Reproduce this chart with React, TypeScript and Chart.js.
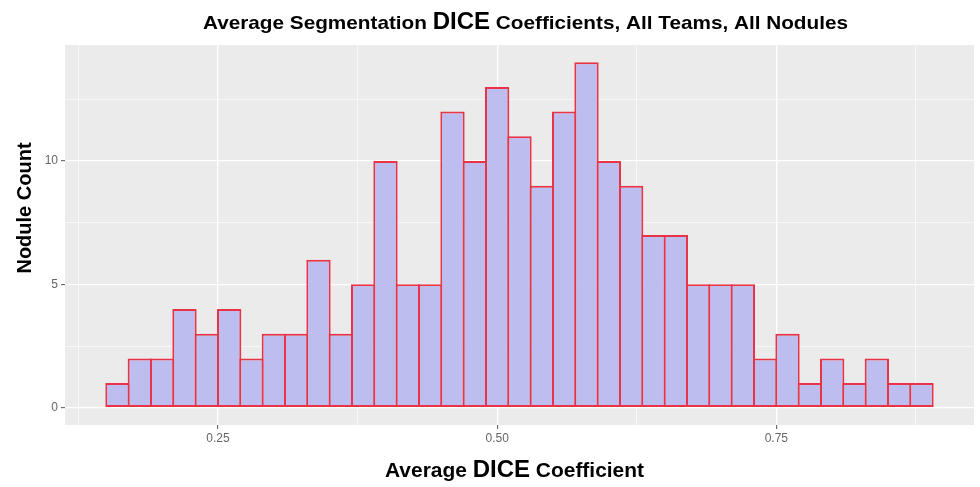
import React, { useEffect, useRef } from "react";
import { Chart, registerables } from "chart.js";

Chart.register(...registerables);

// Histogram bins (centre of each 0.02-wide bin) and counts
const binCenters = [
  0.16, 0.18, 0.2, 0.22, 0.24, 0.26, 0.28, 0.3, 0.32, 0.34, 0.36, 0.38, 0.4,
  0.42, 0.44, 0.46, 0.48, 0.5, 0.52, 0.54, 0.56, 0.58, 0.6, 0.62, 0.64, 0.66,
  0.68, 0.7, 0.72, 0.74, 0.76, 0.78, 0.8, 0.82, 0.84, 0.86, 0.88,
];
const noduleCounts = [
  1, 2, 2, 4, 3, 4, 2, 3, 3, 6, 3, 5, 10, 5, 5, 12, 10, 13, 11, 9, 12, 14, 10,
  9, 7, 7, 5, 5, 5, 2, 3, 1, 2, 1, 2, 1, 1,
];

// Axis ticks (major labelled, minor unlabelled grid lines)
const xTickValues = [0.125, 0.25, 0.375, 0.5, 0.625, 0.75, 0.875];
const xMajorTicks = [0.25, 0.5, 0.75];
const xMajorLabels = ["0.25", "0.50", "0.75"];
const yTickValues = [0, 2.5, 5, 7.5, 10, 12.5];
const yMajorTicks = [0, 5, 10];
const yMajorLabels = ["0", "5", "10"];

const titleParts = ["Average Segmentation ", "DICE", " Coefficients, All Teams, All Nodules"];
const xTitleParts = ["Average ", "DICE", " Coefficient"];
const yTitle = "Nodule Count";

const FONT = '"Liberation Sans", Arial, Helvetica, sans-serif';

type Seg = { t: string; size: number; fit: boolean };

function drawRich(
  ctx: CanvasRenderingContext2D,
  segs: Seg[],
  x0: number,
  x1: number,
  baseline: number
) {
  ctx.save();
  ctx.fillStyle = "#000000";
  ctx.textBaseline = "alphabetic";
  ctx.textAlign = "left";
  let fixedW = 0;
  let fitW = 0;
  const widths = segs.map((s) => {
    ctx.font = `bold ${s.size}px ${FONT}`;
    const w = ctx.measureText(s.t).width;
    if (s.fit) fitW += w;
    else fixedW += w;
    return w;
  });
  const k = fitW > 0 ? (x1 - x0 - fixedW) / fitW : 1;
  let x = x0;
  segs.forEach((s, i) => {
    ctx.font = `bold ${s.size}px ${FONT}`;
    const sx = s.fit ? k : 1;
    ctx.save();
    ctx.translate(x, baseline);
    ctx.scale(sx, 1);
    ctx.fillText(s.t, 0, 0);
    ctx.restore();
    x += widths[i] * sx;
  });
  ctx.restore();
}

const decorPlugin = {
  id: "decor",
  beforeDraw(chart: any) {
    const { ctx, chartArea: a } = chart;
    ctx.save();
    ctx.fillStyle = "#EBEBEB";
    ctx.fillRect(a.left, a.top, a.right - a.left, a.bottom - a.top);
    ctx.restore();
  },
  afterDraw(chart: any) {
    const ctx: CanvasRenderingContext2D = chart.ctx;
    drawRich(
      ctx,
      [
        { t: titleParts[0], size: 19, fit: true },
        { t: titleParts[1], size: 24, fit: false },
        { t: titleParts[2], size: 19, fit: true },
      ],
      203,
      848,
      29
    );
    drawRich(
      ctx,
      [
        { t: xTitleParts[0], size: 20, fit: true },
        { t: xTitleParts[1], size: 24, fit: false },
        { t: xTitleParts[2], size: 20, fit: true },
      ],
      385,
      644,
      477
    );
    ctx.save();
    ctx.translate(31, 208);
    ctx.rotate(-Math.PI / 2);
    ctx.font = `bold 20px ${FONT}`;
    ctx.fillStyle = "#000000";
    ctx.textAlign = "center";
    ctx.textBaseline = "alphabetic";
    ctx.fillText(yTitle, 0, 0);
    ctx.restore();
  },
};

function isMajor(v: number, majors: number[]) {
  return majors.some((m) => Math.abs(m - v) < 1e-9);
}

export default function App() {
  const canvasRef = useRef<HTMLCanvasElement | null>(null);

  useEffect(() => {
    if (!canvasRef.current) return;
    const chart = new Chart(canvasRef.current, {
      type: "bar",
      data: {
        datasets: [
          {
            data: binCenters.map((x, i) => ({ x, y: noduleCounts[i] })),
            backgroundColor: "rgb(189,189,239)",
            borderColor: "rgb(232,52,70)",
            borderWidth: 2,
            borderSkipped: false,
            inflateAmount: 0,
            barPercentage: 1.09,
            categoryPercentage: 1,
            grouped: false,
          } as any,
        ],
      },
      options: {
        animation: false,
        responsive: false,
        maintainAspectRatio: false,
        devicePixelRatio: 1,
        layout: { padding: { left: 0, top: 45, right: 6, bottom: 0 } },
        plugins: {
          legend: { display: false },
          tooltip: { enabled: false },
          title: { display: false },
        },
        scales: {
          x: {
            type: "linear",
            min: 0.113,
            max: 0.927,
            offset: false,
            afterFit: (s: any) => {
              s.height = 62;
            },
            afterBuildTicks: (s: any) => {
              s.ticks = xTickValues.map((v) => ({ value: v }));
            },
            ticks: {
              autoSkip: false,
              maxRotation: 0,
              padding: 2,
              color: "#666666",
              font: { family: FONT, size: 12 },
              callback: (v: any) => {
                const idx = xMajorTicks.findIndex((m) => Math.abs(m - v) < 1e-9);
                return idx >= 0 ? xMajorLabels[idx] : "";
              },
            },
            grid: {
              offset: false,
              color: "#FFFFFF",
              lineWidth: (c: any) => (isMajor(c.tick?.value, xMajorTicks) ? 1.3 : 0.6),
              drawTicks: true,
              tickLength: 4,
              tickWidth: 1,
              tickColor: (c: any) =>
                isMajor(c.tick?.value, xMajorTicks) ? "#555555" : "rgba(0,0,0,0)",
            },
            border: { display: false },
          },
          y: {
            type: "linear",
            min: -0.7,
            max: 14.7,
            afterFit: (s: any) => {
              s.width = 65;
            },
            afterBuildTicks: (s: any) => {
              s.ticks = yTickValues.map((v) => ({ value: v }));
            },
            ticks: {
              autoSkip: false,
              padding: 3,
              color: "#666666",
              font: { family: FONT, size: 12 },
              callback: (v: any) => {
                const idx = yMajorTicks.findIndex((m) => Math.abs(m - v) < 1e-9);
                return idx >= 0 ? yMajorLabels[idx] : "";
              },
            },
            grid: {
              offset: false,
              color: "#FFFFFF",
              lineWidth: (c: any) => (isMajor(c.tick?.value, yMajorTicks) ? 1.3 : 0.6),
              drawTicks: true,
              tickLength: 4,
              tickWidth: 1,
              tickColor: (c: any) =>
                isMajor(c.tick?.value, yMajorTicks) ? "#555555" : "rgba(0,0,0,0)",
            },
            border: { display: false },
          },
        },
      } as any,
      plugins: [decorPlugin],
    });
    return () => chart.destroy();
  }, []);

  return (
    <div
      style={{
        position: "absolute",
        left: 0,
        top: 0,
        width: 980,
        height: 487,
        background: "#ffffff",
      }}
    >
      <canvas
        ref={canvasRef}
        width={980}
        height={487}
        style={{ width: 980, height: 487, display: "block" }}
      />
    </div>
  );
}
